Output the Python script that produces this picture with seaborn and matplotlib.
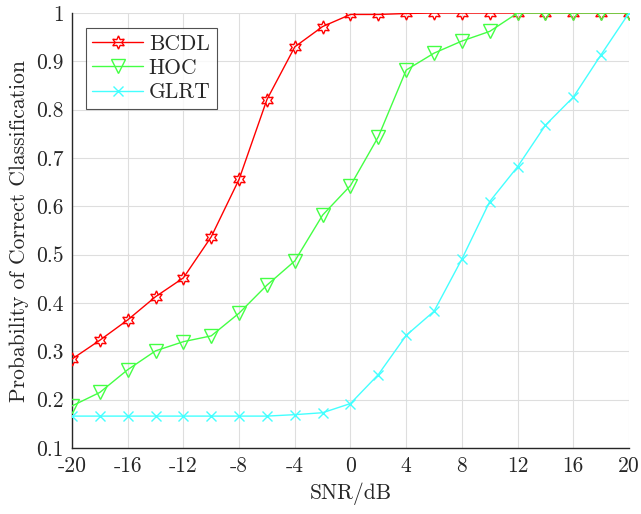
import matplotlib
matplotlib.use("Agg")
import matplotlib.pyplot as plt
import seaborn as sns
import pandas as pd
import numpy as np

snr = list(range(-20, 21, 2))
bcdl = [0.284, 0.323, 0.365, 0.413, 0.452, 0.537, 0.656, 0.821, 0.930, 0.972, 0.997,
        0.997, 0.999, 1.0, 1.0, 1.0, 1.0, 1.0, 1.0, 1.0, 1.0]
hoc = [0.187, 0.215, 0.262, 0.301, 0.320, 0.332, 0.379, 0.437, 0.487, 0.582, 0.643,
       0.744, 0.882, 0.917, 0.942, 0.962, 1.0, 1.0, 1.0, 1.0, 1.0]
glrt = [0.166, 0.166, 0.166, 0.166, 0.166, 0.166, 0.166, 0.166, 0.169, 0.173, 0.192,
        0.252, 0.333, 0.383, 0.491, 0.610, 0.682, 0.768, 0.826, 0.914, 1.0]
series_names = ["BCDL", "HOC", "GLRT"]
xticks = [-20, -16, -12, -8, -4, 0, 4, 8, 12, 16, 20]
yticks = [0.1, 0.2, 0.3, 0.4, 0.5, 0.6, 0.7, 0.8, 0.9, 1.0]

df = pd.DataFrame({
    "SNR": snr * 3,
    "P": bcdl + hoc + glrt,
    "Method": [n for n in series_names for _ in snr],
})

sns.set_style("white")
plt.rcParams["font.family"] = ["cmr10", "DejaVu Serif"]
plt.rcParams["axes.formatter.use_mathtext"] = True

fig = plt.figure(figsize=(6.41, 5.14), dpi=100)
ax = fig.add_axes([0.1123, 0.1284, 0.869, 0.8463])

colors = {"BCDL": "#ff0000", "HOC": "#44ff44", "GLRT": "#44ffff"}
markers = {"BCDL": (6, 1, 0), "HOC": "v", "GLRT": "x"}
msizes = {"BCDL": 9.5, "HOC": 10, "GLRT": 7}

for name in series_names:
    sub = df[df["Method"] == name]
    sns.lineplot(data=sub, x="SNR", y="P", ax=ax, color=colors[name], label=name,
                 marker=markers[name], markersize=msizes[name],
                 markerfacecolor="none", markeredgecolor=colors[name],
                 markeredgewidth=1.0, linewidth=1.0, zorder=3)

fs = 15.5
ax.set_xlim(-20, 20)
ax.set_ylim(0.1, 1.0)
ax.set_xticks(xticks)
ax.set_xticklabels([str(t) for t in xticks])
ax.set_yticks(yticks)
ax.set_yticklabels([("%g" % t) for t in yticks])
ax.grid(True, color="#dedede", linewidth=0.8)
ax.set_axisbelow(True)
for s in ["top", "right"]:
    ax.spines[s].set_visible(False)
for s in ["left", "bottom"]:
    ax.spines[s].set_color("#262626")
    ax.spines[s].set_linewidth(1.0)
ax.tick_params(direction="in", length=5, width=0.8, colors="#262626",
               labelsize=fs, labelcolor="#262626", pad=6)
ax.set_xlabel("SNR/dB", fontsize=fs, color="#262626", labelpad=5)
ax.set_ylabel("Probability of Correct Classification", fontsize=fs, color="#262626", labelpad=5)

leg = ax.legend(loc="upper left", bbox_to_anchor=(0.025, 0.966), fontsize=fs,
                frameon=True, fancybox=False, edgecolor="#262626",
                handlelength=2.37, borderpad=0.3, labelspacing=0.22,
                handletextpad=0.25, borderaxespad=0)
leg.get_frame().set_linewidth(0.8)
for t in leg.get_texts():
    t.set_color("#262626")

fig.savefig("out.png", dpi=100)
